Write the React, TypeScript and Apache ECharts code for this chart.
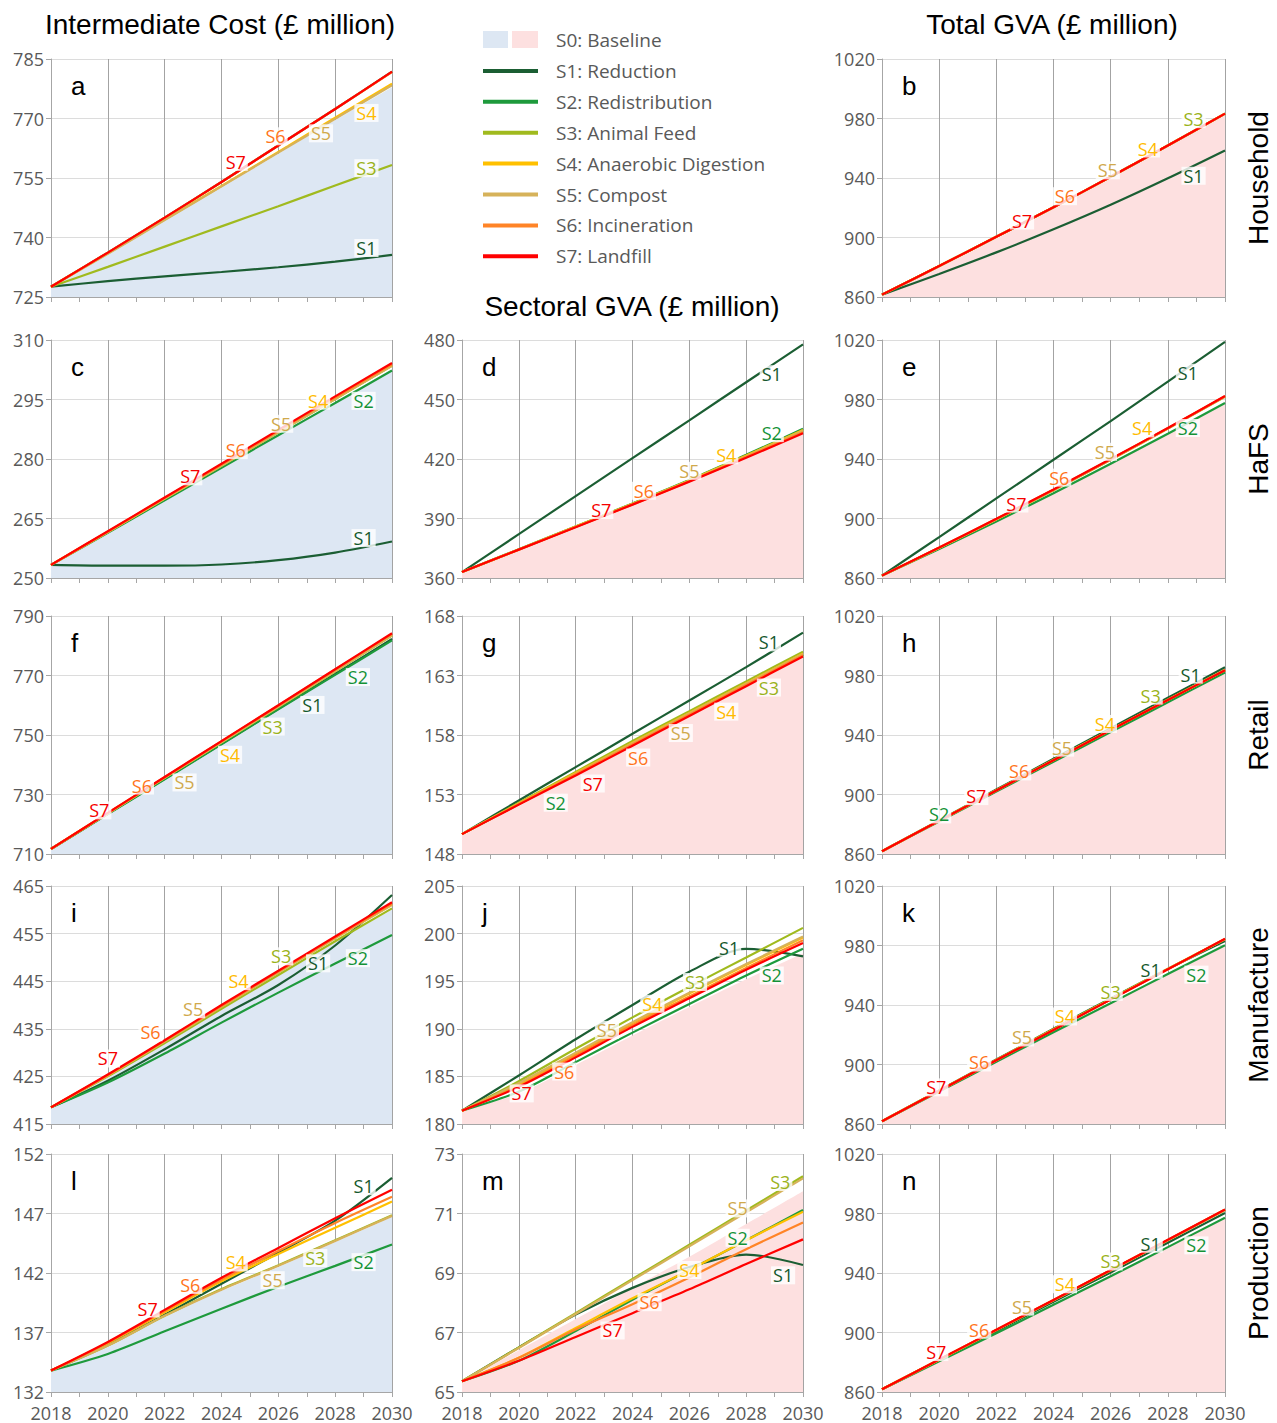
import React, { useEffect, useRef } from "react";
import * as echarts from "echarts";

// ---------------- DATA ----------------
const years = [2018, 2020, 2022, 2024, 2026, 2028, 2030];
const scenarioKeys = ["S1", "S2", "S3", "S4", "S5", "S6", "S7"];
const legendNames = [
  "S0: Baseline",
  "S1: Reduction",
  "S2: Redistribution",
  "S3: Animal Feed",
  "S4: Anaerobic Digestion",
  "S5: Compost",
  "S6: Incineration",
  "S7: Landfill",
];
const rowNames = ["Household", "HaFS", "Retail", "Manufacture", "Production"];
const columnTitles = ["Intermediate Cost (£ million)", "Sectoral GVA (£ million)", "Total GVA (£ million)"];

// a: Intermediate cost, Household
const panelA = {
  S0: [727.6, 735.8, 744.2, 752.7, 761.1, 769.6, 777.9],
  S1: [727.6, 729.0, 730.2, 731.3, 732.5, 733.9, 735.6],
  S2: [727.6, 736.2, 745.0, 754.0, 763.2, 772.4, 781.8],
  S3: [727.6, 732.6, 737.7, 742.8, 747.9, 753.1, 758.3],
  S4: [727.6, 736.0, 744.5, 753.0, 761.6, 770.2, 778.8],
  S5: [727.6, 735.9, 744.4, 752.9, 761.4, 769.9, 778.4],
  S6: [727.6, 736.2, 745.0, 754.0, 763.2, 772.4, 781.7],
  S7: [727.6, 736.2, 745.0, 754.0, 763.2, 772.4, 781.8],
};
// b: Total GVA, Household
const panelB = {
  S0: [861.6, 880.6, 900.2, 920.0, 940.4, 961.4, 982.8],
  S1: [861.6, 875.5, 890.0, 905.5, 922.0, 939.8, 958.5],
  S2: [861.6, 880.8, 900.5, 920.3, 940.8, 961.8, 983.3],
  S3: [861.6, 880.8, 900.5, 920.3, 940.8, 961.8, 983.3],
  S4: [861.6, 880.8, 900.5, 920.3, 940.8, 961.8, 983.3],
  S5: [861.6, 880.8, 900.5, 920.3, 940.8, 961.8, 983.3],
  S6: [861.6, 880.8, 900.5, 920.3, 940.8, 961.8, 983.3],
  S7: [861.6, 880.8, 900.5, 920.3, 940.8, 961.8, 983.3],
};
// c: Intermediate cost, HaFS
const panelC = {
  S0: [253.3, 261.3, 269.4, 277.6, 285.8, 293.9, 302.1],
  S1: [253.3, 253.1, 253.1, 253.4, 254.5, 256.4, 259.2],
  S2: [253.3, 261.4, 269.6, 277.8, 286.0, 294.1, 302.3],
  S3: [253.3, 261.6, 270.0, 278.3, 286.7, 295.1, 303.5],
  S4: [253.3, 261.6, 270.0, 278.4, 286.8, 295.2, 303.6],
  S5: [253.3, 261.6, 270.0, 278.3, 286.7, 295.1, 303.5],
  S6: [253.3, 261.7, 270.2, 278.6, 287.1, 295.5, 303.9],
  S7: [253.3, 261.8, 270.3, 278.8, 287.3, 295.8, 304.2],
};
// d: Sectoral GVA, HaFS
const panelD = {
  S0: [363.0, 374.2, 385.5, 396.9, 408.5, 420.5, 432.8],
  S1: [363.0, 382.1, 401.3, 420.4, 439.5, 458.7, 477.8],
  S2: [363.0, 374.5, 386.0, 397.6, 409.4, 422.1, 435.2],
  S3: [363.0, 374.4, 385.9, 397.4, 409.1, 421.6, 434.5],
  S4: [363.0, 374.4, 385.9, 397.4, 409.2, 421.7, 434.6],
  S5: [363.0, 374.4, 385.8, 397.3, 409.0, 421.4, 434.2],
  S6: [363.0, 374.3, 385.7, 397.1, 408.8, 421.0, 433.5],
  S7: [363.0, 374.3, 385.6, 397.0, 408.6, 420.6, 433.0],
};
// e: Total GVA, HaFS
const panelE = {
  S0: [861.6, 879.4, 897.8, 916.8, 936.5, 956.7, 977.2],
  S1: [861.6, 887.5, 913.5, 939.5, 965.5, 992.0, 1018.7],
  S2: [861.6, 879.5, 898.0, 917.0, 936.8, 957.0, 977.6],
  S3: [861.6, 880.2, 899.3, 919.0, 939.4, 960.4, 981.8],
  S4: [861.6, 880.3, 899.5, 919.2, 939.6, 960.6, 982.1],
  S5: [861.6, 880.3, 899.4, 919.1, 939.5, 960.5, 982.0],
  S6: [861.6, 880.4, 899.6, 919.4, 939.8, 960.7, 982.2],
  S7: [861.6, 880.5, 899.8, 919.5, 940.0, 960.8, 982.3],
};
// f: Intermediate cost, Retail
const panelF = {
  S0: [711.7, 723.3, 735.0, 746.7, 758.4, 770.0, 781.6],
  S1: [711.7, 723.5, 735.3, 747.0, 758.8, 770.5, 782.3],
  S2: [711.7, 723.4, 735.1, 746.9, 758.6, 770.2, 781.8],
  S3: [711.7, 723.6, 735.6, 747.5, 759.4, 771.4, 783.4],
  S4: [711.7, 723.7, 735.7, 747.6, 759.6, 771.6, 783.6],
  S5: [711.7, 723.6, 735.6, 747.5, 759.5, 771.5, 783.5],
  S6: [711.7, 723.8, 735.8, 747.9, 759.9, 772.0, 784.0],
  S7: [711.7, 723.8, 735.9, 747.95, 760.0, 772.1, 784.2],
};
// g: Sectoral GVA, Retail
const panelG = {
  S0: [149.67, 152.1, 154.55, 157.05, 159.55, 162.05, 164.5],
  S1: [149.67, 152.5, 155.3, 158.1, 160.9, 163.7, 166.6],
  S2: [149.67, 152.2, 154.7, 157.2, 159.7, 162.2, 164.75],
  S3: [149.67, 152.3, 154.9, 157.5, 160.0, 162.5, 165.0],
  S4: [149.67, 152.25, 154.8, 157.35, 159.85, 162.35, 164.85],
  S5: [149.67, 152.2, 154.75, 157.3, 159.8, 162.3, 164.8],
  S6: [149.67, 152.2, 154.7, 157.2, 159.7, 162.2, 164.7],
  S7: [149.67, 152.15, 154.6, 157.1, 159.6, 162.1, 164.6],
};
// h: Total GVA, Retail
const panelH = {
  S0: [861.9, 881.6, 901.7, 921.7, 941.7, 961.7, 981.7],
  S1: [861.9, 882.6, 903.3, 924.0, 944.5, 965.0, 985.5],
  S2: [861.9, 881.9, 902.0, 922.0, 942.0, 962.0, 982.0],
  S3: [861.9, 882.4, 902.9, 923.3, 943.6, 963.8, 983.8],
  S4: [861.9, 882.3, 902.8, 923.1, 943.4, 963.6, 983.6],
  S5: [861.9, 882.3, 902.7, 923.1, 943.4, 963.6, 983.6],
  S6: [861.9, 882.3, 902.7, 923.0, 943.3, 963.5, 983.5],
  S7: [861.9, 882.3, 902.7, 923.0, 943.3, 963.5, 983.5],
};
// i: Intermediate cost, Manufacture
const panelI = {
  S0: [418.5, 424.9, 431.9, 439.1, 446.2, 453.2, 460.0],
  S1: [418.5, 424.1, 430.7, 437.7, 444.2, 452.5, 463.1],
  S2: [418.5, 423.7, 429.8, 436.3, 442.6, 448.7, 454.7],
  S3: [418.5, 425.0, 432.0, 439.2, 446.3, 453.4, 460.3],
  S4: [418.5, 425.2, 432.4, 439.7, 446.9, 454.1, 461.1],
  S5: [418.5, 425.2, 432.3, 439.6, 446.8, 454.0, 461.0],
  S6: [418.5, 425.3, 432.5, 439.8, 447.0, 454.2, 461.3],
  S7: [418.5, 425.4, 432.6, 440.0, 447.2, 454.4, 461.6],
};
// j: Sectoral GVA, Manufacture
const panelJ = {
  S0: [181.4, 183.2, 186.2, 189.3, 192.3, 195.2, 197.9],
  S1: [181.4, 185.1, 188.9, 192.5, 196.0, 198.4, 197.6],
  S2: [181.4, 183.4, 186.5, 189.6, 192.6, 195.6, 198.4],
  S3: [181.4, 184.5, 187.9, 191.2, 194.4, 197.5, 200.6],
  S4: [181.4, 184.2, 187.4, 190.6, 193.7, 196.7, 199.6],
  S5: [181.4, 184.3, 187.5, 190.7, 193.8, 196.8, 199.7],
  S6: [181.4, 184.0, 187.2, 190.4, 193.4, 196.4, 199.3],
  S7: [181.4, 183.9, 187.0, 190.2, 193.2, 196.2, 199.0],
};
// k: Total GVA, Manufacture
const panelK = {
  S0: [861.9, 881.6, 901.5, 921.3, 940.8, 960.3, 979.7],
  S1: [861.9, 882.6, 903.3, 924.0, 944.4, 964.2, 983.0],
  S2: [861.9, 881.8, 901.8, 921.7, 941.2, 960.8, 980.2],
  S3: [861.9, 882.5, 903.1, 923.7, 944.1, 964.3, 984.2],
  S4: [861.9, 882.4, 903.0, 923.5, 943.9, 964.2, 984.3],
  S5: [861.9, 882.4, 902.9, 923.4, 943.8, 964.1, 984.3],
  S6: [861.9, 882.3, 902.8, 923.3, 943.7, 964.0, 984.4],
  S7: [861.9, 882.3, 902.8, 923.2, 943.6, 964.0, 984.5],
};
// l: Intermediate cost, Production
const panelL = {
  S0: [133.8, 135.85, 138.3, 140.5, 142.5, 144.6, 146.7],
  S1: [133.8, 136.0, 138.5, 141.1, 143.7, 146.4, 150.0],
  S2: [133.8, 135.2, 137.1, 139.0, 140.85, 142.6, 144.4],
  S3: [133.8, 135.9, 138.4, 140.65, 142.65, 144.75, 146.85],
  S4: [133.8, 136.1, 138.7, 141.3, 143.6, 145.8, 148.0],
  S5: [133.8, 135.9, 138.4, 140.6, 142.6, 144.7, 146.8],
  S6: [133.8, 136.15, 138.8, 141.45, 143.85, 146.2, 148.4],
  S7: [133.8, 136.2, 138.9, 141.6, 144.1, 146.6, 149.0],
};
// m: Sectoral GVA, Production
const panelM = {
  S0: [65.36, 66.4, 67.45, 68.5, 69.55, 70.65, 71.75],
  S1: [65.36, 66.5, 67.6, 68.5, 69.2, 69.62, 69.27],
  S2: [65.36, 66.05, 67.05, 68.1, 69.1, 70.1, 71.12],
  S3: [65.36, 66.5, 67.65, 68.8, 69.95, 71.1, 72.25],
  S4: [65.36, 66.15, 67.15, 68.15, 69.1, 70.1, 71.06],
  S5: [65.36, 66.48, 67.62, 68.76, 69.9, 71.04, 72.18],
  S6: [65.36, 66.15, 67.1, 67.95, 68.85, 69.8, 70.7],
  S7: [65.36, 66.05, 66.85, 67.65, 68.45, 69.3, 70.13],
};
// n: Total GVA, Production
const panelN = {
  S0: [861.9, 880.4, 899.3, 918.4, 937.6, 957.2, 977.0],
  S1: [861.9, 881.3, 900.9, 920.6, 940.4, 960.3, 980.4],
  S2: [861.9, 880.6, 899.5, 918.6, 937.8, 957.4, 977.2],
  S3: [861.9, 881.7, 901.6, 921.6, 941.7, 962.0, 982.4],
  S4: [861.9, 881.7, 901.7, 921.7, 941.8, 962.1, 982.5],
  S5: [861.9, 881.7, 901.7, 921.7, 941.8, 962.1, 982.5],
  S6: [861.9, 881.8, 901.8, 921.8, 941.9, 962.2, 982.6],
  S7: [861.9, 881.8, 901.9, 921.9, 942.0, 962.3, 982.7],
};

// ---------------- STYLE / LAYOUT ----------------
const lineColors: Record<string, string> = {
  S1: "#1b5e33",
  S2: "#1e9a3c",
  S3: "#a0ba1e",
  S4: "#ffc000",
  S5: "#d6b25a",
  S6: "#ff8427",
  S7: "#ff0000",
};
const labelColors: Record<string, string> = {
  S1: "#14582c",
  S2: "#149236",
  S3: "#9ab21a",
  S4: "#ffbb00",
  S5: "#d0a94c",
  S6: "#ff741a",
  S7: "#f50000",
};
const blueFill = "#dde7f3";
const pinkFill = "#fde0e0";

const colLeft = [51, 462, 882];
const colWidth = [341, 341, 343];
const rowTop = [59, 340, 616, 886, 1154];
const gridHeight = 238;

type LabelSpec = [string, number, number]; // scenario, year, vertical pixel offset
type Panel = {
  letter: string;
  data: Record<string, number[]>;
  col: number;
  row: number;
  base: number;
  range: number;
  step: number;
  labels: LabelSpec[];
};

const panels: Panel[] = [
  { letter: "a", data: panelA, col: 0, row: 0, base: 725, range: 60, step: 15,
    labels: [["S7", 2024.5, -11], ["S6", 2025.9, -11], ["S5", 2027.5, 6], ["S4", 2029.1, 14], ["S3", 2029.1, -6], ["S1", 2029.1, -10]] },
  { letter: "b", data: panelB, col: 2, row: 0, base: 860, range: 160, step: 40,
    labels: [["S7", 2022.9, -3], ["S6", 2024.4, -5], ["S5", 2025.9, -8], ["S4", 2027.3, -8], ["S3", 2028.9, -12], ["S1", 2028.9, 10]] },
  { letter: "c", data: panelC, col: 0, row: 1, base: 250, range: 60, step: 15,
    labels: [["S7", 2022.9, -6], ["S6", 2024.5, -6], ["S5", 2026.1, -7], ["S4", 2027.4, -8], ["S2", 2029.0, 14], ["S1", 2029.0, -9]] },
  { letter: "d", data: panelD, col: 1, row: 1, base: 360, range: 120, step: 30,
    labels: [["S1", 2028.9, 9], ["S2", 2028.9, -10], ["S4", 2027.3, -9], ["S5", 2026.0, -10], ["S6", 2024.4, -9], ["S7", 2022.9, -7]] },
  { letter: "e", data: panelE, col: 2, row: 1, base: 860, range: 160, step: 40,
    labels: [["S1", 2028.7, 5], ["S2", 2028.7, 5], ["S4", 2027.1, -14], ["S5", 2025.8, -11], ["S6", 2024.2, -9], ["S7", 2022.7, -5]] },
  { letter: "f", data: panelF, col: 0, row: 2, base: 710, range: 80, step: 20,
    labels: [["S7", 2019.7, -8], ["S6", 2021.2, -6], ["S5", 2022.7, 17], ["S4", 2024.3, 18], ["S3", 2025.8, 16], ["S1", 2027.2, 17], ["S2", 2028.8, 16]] },
  { letter: "g", data: panelG, col: 1, row: 2, base: 148, range: 20, step: 5,
    labels: [["S1", 2028.8, -11], ["S3", 2028.8, 18], ["S4", 2027.3, 18], ["S5", 2025.7, 15], ["S6", 2024.2, 16], ["S7", 2022.6, 17], ["S2", 2021.3, 18]] },
  { letter: "h", data: panelH, col: 2, row: 2, base: 860, range: 160, step: 40,
    labels: [["S1", 2028.8, -11], ["S3", 2027.4, -13], ["S4", 2025.8, -9], ["S5", 2024.3, -8], ["S6", 2022.8, -7], ["S7", 2021.3, -5], ["S2", 2020.0, -7]] },
  { letter: "i", data: panelI, col: 0, row: 3, base: 415, range: 50, step: 10,
    labels: [["S7", 2020.0, -16], ["S6", 2021.5, -17], ["S5", 2023.0, -15], ["S4", 2024.6, -15], ["S3", 2026.1, -17], ["S1", 2027.4, 6], ["S2", 2028.8, 6]] },
  { letter: "j", data: panelJ, col: 1, row: 3, base: 180, range: 25, step: 5,
    labels: [["S7", 2020.1, 8], ["S6", 2021.6, 10], ["S5", 2023.1, -6], ["S4", 2024.7, -9], ["S3", 2026.2, -2], ["S1", 2027.4, -8], ["S2", 2028.9, 12]] },
  { letter: "k", data: panelK, col: 2, row: 3, base: 860, range: 160, step: 40,
    labels: [["S7", 2019.9, -5], ["S6", 2021.4, -7], ["S5", 2022.9, -9], ["S4", 2024.4, -7], ["S3", 2026.0, -7], ["S1", 2027.4, -8], ["S2", 2029.0, 15]] },
  { letter: "l", data: panelL, col: 0, row: 4, base: 132, range: 20, step: 5,
    labels: [["S7", 2021.4, -11], ["S6", 2022.9, -12], ["S4", 2024.5, -12], ["S5", 2025.8, 12], ["S3", 2027.3, 9], ["S2", 2029.0, 7], ["S1", 2029.0, -13]] },
  { letter: "m", data: panelM, col: 1, row: 4, base: 65, range: 8, step: 2,
    labels: [["S7", 2023.3, 9], ["S6", 2024.6, 6], ["S4", 2026.0, 0], ["S2", 2027.7, -7], ["S1", 2029.3, 14], ["S5", 2027.7, -9], ["S3", 2029.2, -8]] },
  { letter: "n", data: panelN, col: 2, row: 4, base: 860, range: 160, step: 40,
    labels: [["S7", 2019.9, -9], ["S6", 2021.4, -9], ["S5", 2022.9, -10], ["S4", 2024.4, -10], ["S3", 2026.0, -9], ["S1", 2027.4, -8], ["S2", 2029.0, 13]] },
];

const tickFont = "'Open Sans', 'Noto Sans', sans-serif";
const titleFont = "'Liberation Sans', Arial, sans-serif";

function interp(vals: number[], yr: number): number {
  for (let i = 0; i < years.length - 1; i++) {
    if (yr >= years[i] && yr <= years[i + 1]) {
      const t = (yr - years[i]) / (years[i + 1] - years[i]);
      return vals[i] + t * (vals[i + 1] - vals[i]);
    }
  }
  return vals[vals.length - 1];
}

function buildBaseGraphics() {
  const graphic: any[] = [];
  panels.forEach((p, idx) => {
    graphic.push({
      type: "text",
      id: `letter-${idx}`,
      x: colLeft[p.col] + 20,
      y: rowTop[p.row] + 14,
      silent: true,
      style: { text: p.letter, font: `26px ${titleFont}`, fill: "#000" },
    });
  });
  const titlePos = [
    [220, 24],
    [632, 306],
    [1052, 24],
  ];
  columnTitles.forEach((t, i) => {
    graphic.push({
      type: "text",
      id: `title-${i}`,
      x: titlePos[i][0],
      y: titlePos[i][1],
      silent: true,
      style: { text: t, font: `28px ${titleFont}`, fill: "#000", align: "center", verticalAlign: "middle" },
    });
  });
  rowNames.forEach((r, i) => {
    graphic.push({
      type: "text",
      id: `row-${i}`,
      x: 1258,
      y: rowTop[i] + gridHeight / 2,
      rotation: Math.PI / 2,
      silent: true,
      style: { text: r, font: `28px ${titleFont}`, fill: "#000", align: "center", verticalAlign: "middle" },
    });
  });
  // legend
  const legX = 483;
  const legTextX = 556;
  const legY0 = 40;
  const legStep = 30.9;
  graphic.push({ type: "rect", id: "sw-blue", shape: { x: legX, y: 31, width: 25, height: 17 }, style: { fill: blueFill }, silent: true });
  graphic.push({ type: "rect", id: "sw-pink", shape: { x: 512, y: 31, width: 26, height: 17 }, style: { fill: pinkFill }, silent: true });
  legendNames.forEach((name, i) => {
    const cy = legY0 + i * legStep;
    if (i > 0) {
      graphic.push({
        type: "rect",
        id: `leg-line-${i}`,
        shape: { x: legX, y: cy - 2, width: 55, height: 4 },
        style: { fill: lineColors[scenarioKeys[i - 1]] },
        silent: true,
      });
    }
    graphic.push({
      type: "text",
      id: `leg-text-${i}`,
      x: legTextX,
      y: cy,
      silent: true,
      style: { text: name, font: `19px ${tickFont}`, fill: "#595959", align: "left", verticalAlign: "middle" },
    });
  });
  return graphic;
}

function buildOption() {
  const grid: any[] = [];
  const xAxis: any[] = [];
  const yAxis: any[] = [];
  const series: any[] = [];

  panels.forEach((p, idx) => {
    grid.push({ left: colLeft[p.col], top: rowTop[p.row], width: colWidth[p.col], height: gridHeight, containLabel: false });
    xAxis.push({
      type: "value",
      gridIndex: idx,
      min: 2018,
      max: 2030,
      interval: 2,
      axisLine: { show: true, onZero: false, lineStyle: { color: "#a6a6a6", width: 1 } },
      axisTick: { show: true, length: 5, lineStyle: { color: "#a6a6a6" } },
      minorTick: { show: true, splitNumber: 2, length: 5, lineStyle: { color: "#a6a6a6" } },
      splitLine: { show: true, lineStyle: { color: "#a3a3a3", width: 1 } },
      axisLabel: {
        show: p.row === 4,
        color: "#595959",
        fontSize: 18,
        lineHeight: 18,
        fontFamily: tickFont,
        margin: 12,
        formatter: (v: number) => String(v),
      },
    });
    yAxis.push({
      type: "value",
      gridIndex: idx,
      min: 0,
      max: p.range,
      interval: p.step,
      axisLine: { show: true, lineStyle: { color: "#a6a6a6", width: 1 } },
      axisTick: { show: true, length: 5, lineStyle: { color: "#a6a6a6" } },
      splitLine: { show: true, lineStyle: { color: "#dcdcdc", width: 1 } },
      axisLabel: {
        color: "#595959",
        fontSize: 18,
        lineHeight: 16,
        fontFamily: tickFont,
        margin: 7,
        formatter: (v: number) => String(Math.round((p.base + v) * 100) / 100),
      },
    });

    // baseline area (S0)
    series.push({
      type: "line",
      name: "S0",
      xAxisIndex: idx,
      yAxisIndex: idx,
      data: years.map((y, i) => [y, p.data.S0[i] - p.base]),
      smooth: 0.3,
      showSymbol: false,
      silent: true,
      lineStyle: { width: 0 },
      areaStyle: { color: p.col === 0 ? blueFill : pinkFill, opacity: 1 },
      z: 1,
    });
    // scenario lines
    scenarioKeys.forEach((k) => {
      series.push({
        type: "line",
        name: k,
        xAxisIndex: idx,
        yAxisIndex: idx,
        data: years.map((y, i) => [y, p.data[k][i] - p.base]),
        smooth: 0.3,
        showSymbol: false,
        silent: true,
        lineStyle: { color: lineColors[k], width: 2.2 },
        z: 3,
      });
    });
  });

  return {
    animation: false,
    backgroundColor: "#ffffff",
    grid,
    xAxis,
    yAxis,
    series,
    graphic: buildBaseGraphics(),
  };
}

export default function App() {
  const ref = useRef<HTMLDivElement>(null);
  useEffect(() => {
    if (!ref.current) return;
    const chart = echarts.init(ref.current, undefined, { renderer: "svg" });
    chart.setOption(buildOption());
    // inline scenario labels, anchored on their line through the axis scales
    const labelGraphics: any[] = [];
    panels.forEach((p, idx) => {
      p.labels.forEach(([k, yr, dy], j) => {
        const pt = chart.convertToPixel({ gridIndex: idx }, [yr, interp(p.data[k], yr) - p.base]) as number[];
        if (!pt) return;
        labelGraphics.push({
          type: "text",
          id: `lbl-${idx}-${j}`,
          x: pt[0],
          y: pt[1] + dy,
          z: 100,
          silent: true,
          style: {
            text: k,
            fill: labelColors[k],
            font: `18px ${tickFont}`,
            align: "center",
            verticalAlign: "middle",
            backgroundColor: "rgba(255,255,255,0.8)",
            padding: [0, 2, 0, 2],
          },
        });
      });
    });
    chart.setOption({ graphic: [...buildBaseGraphics(), ...labelGraphics] });
    return () => chart.dispose();
  }, []);
  return (
    <div
      ref={ref}
      style={{ position: "absolute", left: 0, top: 0, width: 1277, height: 1423, background: "#fff" }}
    />
  );
}
